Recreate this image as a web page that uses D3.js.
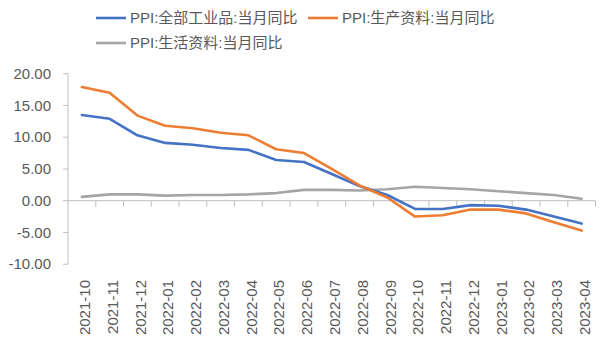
<!DOCTYPE html>
<html>
<head>
<meta charset="utf-8">
<script src="https://cdn.jsdelivr.net/npm/d3@7"></script>
<style>
  body { margin: 0; background: #fff; }
  svg { display: block; }
  text { font-family: "Liberation Sans", "Noto Sans CJK SC", sans-serif; fill: #595959; }
</style>
</head>
<body>
<svg id="chart" width="609" height="344"></svg>
<script>
// monthly PPI year-on-year, %
const months = ["2021-10", "2021-11", "2021-12", "2022-01", "2022-02", "2022-03", "2022-04",
  "2022-05", "2022-06", "2022-07", "2022-08", "2022-09", "2022-10", "2022-11", "2022-12",
  "2023-01", "2023-02", "2023-03", "2023-04"];
const ppiAll = [13.5, 12.9, 10.3, 9.1, 8.8, 8.3, 8.0, 6.4, 6.1, 4.2, 2.3, 0.9, -1.3, -1.3, -0.7, -0.8, -1.4, -2.5, -3.6];
const ppiProducer = [17.9, 17.0, 13.4, 11.8, 11.4, 10.7, 10.3, 8.1, 7.5, 5.0, 2.4, 0.5, -2.5, -2.3, -1.4, -1.4, -2.0, -3.4, -4.7];
const ppiConsumer = [0.6, 1.0, 1.0, 0.8, 0.9, 0.9, 1.0, 1.2, 1.7, 1.7, 1.6, 1.8, 2.2, 2.0, 1.8, 1.5, 1.2, 0.9, 0.3];
const seriesNames = ["PPI:全部工业品:当月同比", "PPI:生产资料:当月同比", "PPI:生活资料:当月同比"];
const yTicks = [-10, -5, 0, 5, 10, 15, 20];

const colors = ["#4472C4", "#ED7D31", "#A5A5A5"];
const axisColor = "#BFBFBF";

const svg = d3.select("#chart");

const x = d3.scaleBand().domain(months).range([68, 595.5]);
const y = d3.scaleLinear().domain([-10, 20]).range([264.2, 73.7]);

// y axis: line, outward ticks, labels with two decimals
const yAxis = svg.append("g");
yAxis.append("line")
  .attr("x1", 68).attr("x2", 68)
  .attr("y1", y(20)).attr("y2", y(-10))
  .attr("stroke", axisColor);
yAxis.selectAll(".ytick")
  .data(yTicks)
  .join("line")
  .attr("x1", 63).attr("x2", 68)
  .attr("y1", d => y(d)).attr("y2", d => y(d))
  .attr("stroke", axisColor);
yAxis.selectAll("text")
  .data(yTicks)
  .join("text")
  .attr("x", 51)
  .attr("y", d => y(d))
  .attr("dy", "0.35em")
  .attr("text-anchor", "end")
  .attr("font-size", 15)
  .text(d => d.toFixed(2));

// category axis sits on zero, ticks between months
const xAxis = svg.append("g");
xAxis.append("line")
  .attr("x1", x.range()[0]).attr("x2", x.range()[1])
  .attr("y1", y(0)).attr("y2", y(0))
  .attr("stroke", axisColor);
const bounds = months.map(m => x(m)).concat([x.range()[1]]);
xAxis.selectAll(".xtick")
  .data(bounds.slice(1))
  .join("line")
  .attr("x1", d => d).attr("x2", d => d)
  .attr("y1", y(0)).attr("y2", y(0) + 6)
  .attr("stroke", axisColor);

// month labels are placed below the plot area, rotated
svg.append("g").selectAll("text")
  .data(months)
  .join("text")
  .attr("transform", d => `translate(${x(d) + x.bandwidth() / 2 + 3},280) rotate(-90)`)
  .attr("dy", "0.35em")
  .attr("text-anchor", "end")
  .attr("font-size", 15)
  .text(d => d);

// the three series
const line = d3.line()
  .x((d, i) => x(months[i]) + x.bandwidth() / 2)
  .y(d => y(d));

const series = [ppiAll, ppiProducer, ppiConsumer];
// gray first so the coloured lines stay on top
svg.append("g").selectAll("path")
  .data([2, 0, 1])
  .join("path")
  .attr("d", i => line(series[i]))
  .attr("fill", "none")
  .attr("stroke", i => colors[i])
  .attr("stroke-width", 2.6)
  .attr("stroke-linejoin", "round")
  .attr("stroke-linecap", "round");

// legend
const legendPos = [[96, 18], [308, 18], [96, 43]];
const legend = svg.append("g").selectAll("g")
  .data(seriesNames)
  .join("g")
  .attr("transform", (d, i) => `translate(${legendPos[i][0]},${legendPos[i][1]})`);
legend.append("line")
  .attr("x1", 0).attr("x2", 30)
  .attr("stroke", (d, i) => colors[i])
  .attr("stroke-width", 2.6);
legend.append("text")
  .attr("x", 34)
  .attr("dy", "0.35em")
  .attr("font-size", 15)
  .attr("font-family", "'Noto Sans CJK SC', sans-serif")
  .text(d => d);
</script>
</body>
</html>
